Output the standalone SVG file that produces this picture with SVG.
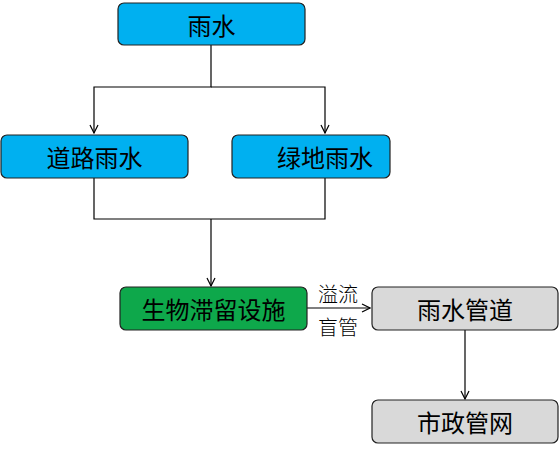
<svg xmlns="http://www.w3.org/2000/svg" width="560" height="449" viewBox="0 0 560 449">
<defs>
<marker id="arr" viewBox="0 0 10 10" refX="9" refY="5" markerWidth="10" markerHeight="10" markerUnits="userSpaceOnUse" orient="auto">
<path d="M1,1 L9,5 L1,9" fill="none" stroke="#000" stroke-width="1.2"/>
</marker>
</defs>
<style>
.box{stroke:#222;stroke-width:1.2}
.blue{fill:#00B0F0}
.green{fill:#0EA84B}
.gray{fill:#D9D9D9}
.t{font-family:"Noto Sans CJK SC","Liberation Sans",sans-serif;font-size:24px;fill:#000;text-anchor:middle;dominant-baseline:central}
.l{font-family:"Noto Sans CJK SC","Liberation Sans",sans-serif;font-size:20px;font-weight:300;fill:#000;text-anchor:middle;dominant-baseline:central}
.c{fill:none;stroke:#000;stroke-width:1.2}
</style>
<g id="connectors">
<path class="c" d="M211,45 V87 H94 V133" marker-end="url(#arr)"/>
<path class="c" d="M211,87 H325 V133" marker-end="url(#arr)"/>
<path class="c" d="M94,178 V219 H325 V178"/>
<path class="c" d="M211,219 V286" marker-end="url(#arr)"/>
<path class="c" d="M307,308 H370" marker-end="url(#arr)"/>
<path class="c" d="M465,330 V399" marker-end="url(#arr)"/>
<text class="l" x="338" y="293">溢流</text>
<text class="l" x="338" y="326">盲管</text>
</g>
<g id="n1"><rect class="box blue" x="118" y="3" width="187" height="42" rx="6"/><text class="t" x="211.5" y="24">雨水</text></g>
<g id="n2"><rect class="box blue" x="1" y="135" width="187" height="43" rx="6"/><text class="t" x="94.5" y="156.5">道路雨水</text></g>
<g id="n3"><rect class="box blue" x="232" y="135" width="158" height="43" rx="6"/><text class="t" x="325" y="156.5">绿地雨水</text></g>
<g id="n4"><rect class="box green" x="120" y="287" width="187" height="43" rx="6"/><text class="t" x="213.5" y="308.5">生物滞留设施</text></g>
<g id="n5"><rect class="box gray" x="372" y="287" width="186" height="43" rx="6"/><text class="t" x="465" y="308.5">雨水管道</text></g>
<g id="n6"><rect class="box gray" x="372" y="400" width="186" height="43" rx="6"/><text class="t" x="465" y="421.5">市政管网</text></g>
</svg>
